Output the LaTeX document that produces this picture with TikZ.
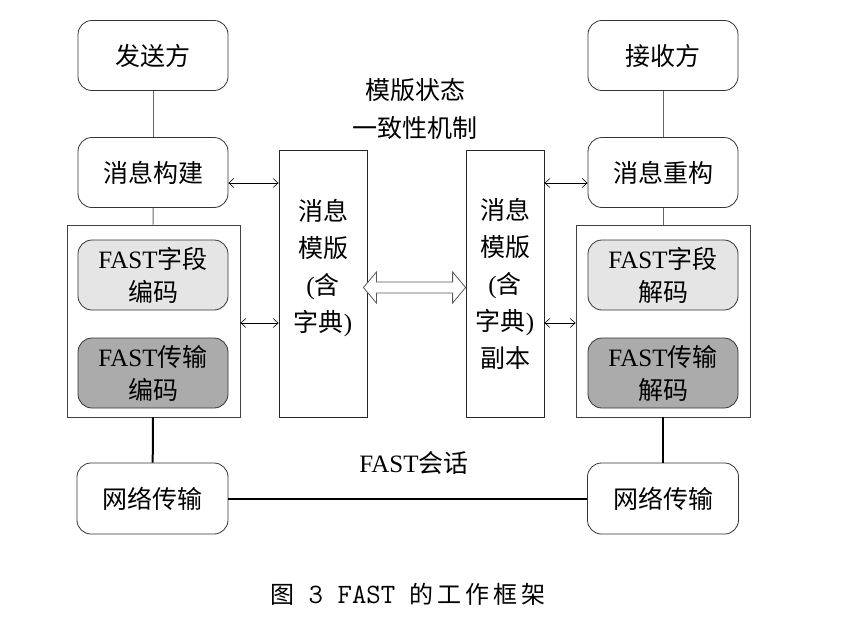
\documentclass[tikz,border=0pt]{standalone}
\usepackage{fontspec}
\setmainfont{Liberation Serif}
\newfontfamily\cjk{Noto Sans CJK SC}
\usetikzlibrary{arrows.meta,calc}
\newcommand\zh[1]{{\cjk #1}}
\begin{document}
\begin{tikzpicture}[x=1pt,y=-1pt,
  rbox/.style={draw=black!80, rounded corners=14pt, minimum width=150pt, minimum height=70pt,
    inner sep=0pt, align=center, font=\fontsize{25}{33}\selectfont, line width=0.8pt},
  fieldbox/.style={rbox, fill=black!10},
  transbox/.style={rbox, fill=black!33},
  outerbox/.style={draw=black!75, line width=0.8pt, inner sep=0pt, minimum height=192pt},
  tplbox/.style={draw=black!85, line width=0.8pt, minimum height=267pt, inner sep=0pt, align=center,
    font=\fontsize{25}{37}\selectfont},
  biarrow/.style={{Straight Barb[length=5pt,width=9pt]}-{Straight Barb[length=5pt,width=9pt]}, line width=0.6pt},
  thinlink/.style={draw=black!60, line width=0.9pt},
  thicklink/.style={draw=black, line width=2pt},
  plaintext/.style={inner sep=0pt, align=center, font=\fontsize{25}{38}\selectfont}
]
\useasboundingbox[fill=white] (0,0) rectangle (848,624);

% left column
\node[outerbox, minimum width=173pt] (outerL) at (153.5,321) {};
\node[rbox] (send) at (153,55.5) {\zh{发送方}};
\node[rbox] (build) at (153,172.5) {\zh{消息构建}};
\node[fieldbox] (fieldL) at (153,275) {FAST\zh{字段}\\\zh{编码}};
\node[transbox] (transL) at (153,373) {FAST\zh{传输}\\\zh{编码}};
\node[rbox, minimum width=151pt, minimum height=71pt] (netL) at (152.5,498.5) {\zh{网络传输}};

% right column
\node[outerbox, minimum width=174pt] (outerR) at (663,321) {};
\node[rbox] (recv) at (663,55.5) {\zh{接收方}};
\node[rbox] (rebuild) at (663,172.5) {\zh{消息重构}};
\node[fieldbox] (fieldR) at (663,275) {FAST\zh{字段}\\\zh{解码}};
\node[transbox] (transR) at (663,373) {FAST\zh{传输}\\\zh{解码}};
\node[rbox, minimum width=151pt, minimum height=71pt] (netR) at (663,498.5) {\zh{网络传输}};

% template boxes
\node[tplbox, minimum width=88pt] (tplL) at (323,283.5) {\zh{消息}\\\zh{模版}\\(\zh{含}\\\zh{字典})\\~};
\node[tplbox, minimum width=78pt] (tplR) at (505,283.5) {\zh{消息}\\\zh{模版}\\(\zh{含}\\\zh{字典})\\\zh{副本}};

% texts
\node[plaintext] (sync) at (415,109) {\zh{模版状态}\\\zh{一致性机制}};
\node[plaintext] (session) at (414,463) {FAST\zh{会话}};
\node[inner sep=0pt, font=\fontsize{24}{28}\selectfont] (caption) at (408,594)
  {\zh{图}{\fontsize{28}{28}\selectfont\texttt{ 3 FAST }}\zh{的\hspace{4pt}工\hspace{4pt}作\hspace{4pt}框\hspace{4pt}架}};

% links
\draw[thinlink] (send) -- (build);
\draw[thinlink] (build) -- (outerL);
\draw[thinlink] (recv) -- (rebuild);
\draw[thinlink] (rebuild) -- (outerR);
\draw[thicklink] (outerL) -- (netL);
\draw[thicklink] (outerR) -- (netR);
\draw[thicklink] (netL) -- (netR);

% arrows
\coordinate (a1) at ($(build.east)+(0,10.5)$);
\coordinate (a2) at ($(outerL.east)+(0,2)$);
\coordinate (a3) at ($(rebuild.west)+(0,10.5)$);
\coordinate (a4) at ($(outerR.west)+(0,2)$);
\draw[biarrow] (a1) -- (a1 -| tplL.west);
\draw[biarrow] (a2) -- (a2 -| tplL.west);
\draw[biarrow] (a3 -| tplR.east) -- (a3);
\draw[biarrow] (a4 -| tplR.east) -- (a4);

% hollow double arrow between templates
\coordinate (da1) at ($(tplL.east)+(-4,4)$);
\coordinate (da2) at (tplR.west |- da1);
\draw[draw=black!65, fill=white, line width=0.8pt]
  (da1) -- ++(13,-15.5) -- ++(0,10) -- ($(da2)+(-13,-5.5)$) -- ++(0,-10) -- (da2)
  -- ++(-13,15.5) -- ++(0,-10) -- ($(da1)+(13,5.5)$) -- ++(0,10) -- cycle;
\end{tikzpicture}
\end{document}
